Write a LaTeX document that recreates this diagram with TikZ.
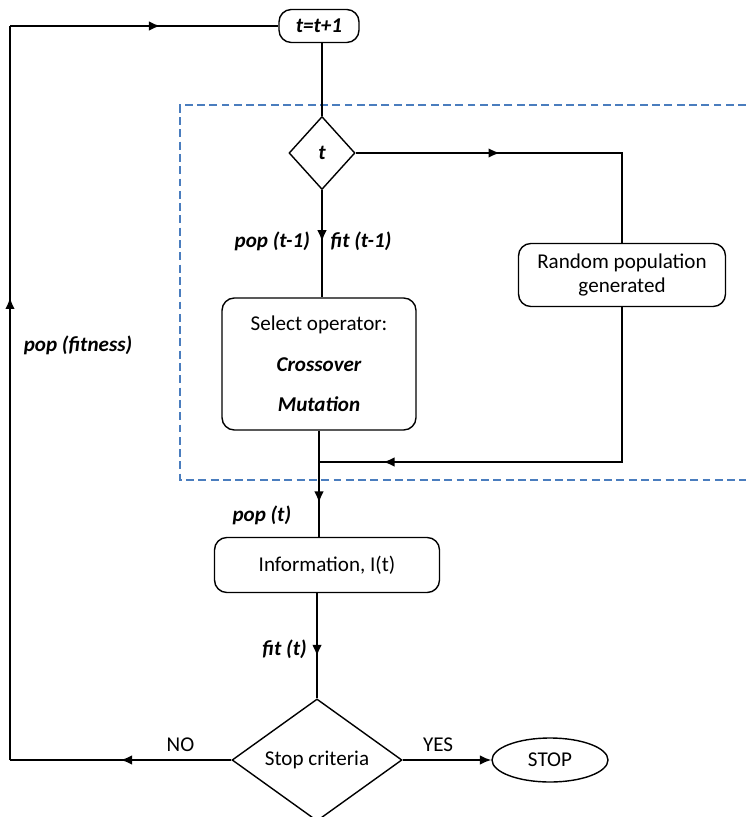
\documentclass[tikz,border=0pt]{standalone}
\usepackage{fontspec}
\setmainfont{Carlito}
\usetikzlibrary{shapes.geometric,arrows.meta,decorations.markings}
\definecolor{dashblue}{RGB}{74,125,190}

\tikzset{
  box/.style={draw,line width=0.8pt,rounded corners=7pt,align=center},
  dec/.style={draw,line width=0.8pt,diamond,inner sep=0pt},
  term/.style={draw,line width=0.8pt,ellipse,inner sep=0pt},
  lbl/.style={font=\fontsize{12}{14}\selectfont\bfseries\itshape},
  wire/.style={line width=1.1pt},
  arrowat/.style={wire,postaction={decorate},decoration={markings,
    mark=at position #1 with {\arrow{Latex[length=6.5pt,width=5.5pt]}}}},
  dashbox/.style={dashblue,line width=1.1pt,dash pattern=on 4.5pt off 2.5pt}
}

\begin{document}
\begin{tikzpicture}[x=0.02cm,y=-0.02cm,font=\fontsize{12}{14}\selectfont]
\useasboundingbox (0,0) rectangle (746,817);

\draw[dashbox] (746,105) -- (180,105) -- (180,480) -- (746,480);

\node[box,lbl,minimum width=1.6cm,minimum height=0.66cm] (inc) at (319,26) {t=t+1};
\node[dec,lbl,minimum width=1.32cm,minimum height=1.46cm] (tdec) at (322,153) {t};
\node[box,minimum width=4.14cm,minimum height=1.26cm] (rand) at (622,275) {Random population\\generated};
\node[box,minimum width=3.88cm,minimum height=2.64cm] (sel) at (319,364)
  {Select operator:\\[9pt]{\bfseries\itshape Crossover}\\[9pt]{\bfseries\itshape Mutation}};
\node[box,minimum width=4.5cm,minimum height=1.1cm] (info) at (327,565) {Information, I(t)};
\node[dec,minimum width=3.4cm,minimum height=2.2cm] (stopdec) at (317,760) {Stop criteria};
\node[term,minimum width=2.32cm,minimum height=0.88cm] (stopend) at (550,760) {STOP};

\coordinate (nol) at (10,760);
\coordinate (topl) at (10,26);
\coordinate (rc) at (622,153);
\coordinate (merge) at (319,462);

\draw[wire] (inc.south -| tdec.north) -- (tdec.north);
\draw[arrowat=0.405] (tdec.east) -- (rc) -- (rand.north);
\draw[arrowat=0.48] (tdec.south) --
  node[lbl,pos=0.48,left=3pt]{pop (t-1)}
  node[lbl,pos=0.48,right=1pt]{fit (t-1)} (tdec.south |- sel.north);
\draw[arrowat=0.86] (rand.south) |- (merge);
\draw[arrowat=0.68] (sel.south) --
  node[lbl,pos=0.8,left=12pt]{pop (t)} (sel.south |- info.north);
\draw[arrowat=0.6] (stopdec.north |- info.south) --
  node[lbl,pos=0.53,left=2pt]{fit (t)} (stopdec.north);
\draw[wire,-{Latex[length=6.5pt,width=5.5pt]}] (stopdec.east) --
  node[pos=0.4,above=1pt]{YES} (stopend.west);
\draw[arrowat=0.5] (stopdec.west) -- node[pos=0.23,above=1pt]{NO} (nol);
\draw[arrowat=0.63] (nol) -- node[lbl,pos=0.565,right=4pt]{pop (fitness)} (topl);
\draw[arrowat=0.56] (topl) -- (inc.west);
\end{tikzpicture}
\end{document}
